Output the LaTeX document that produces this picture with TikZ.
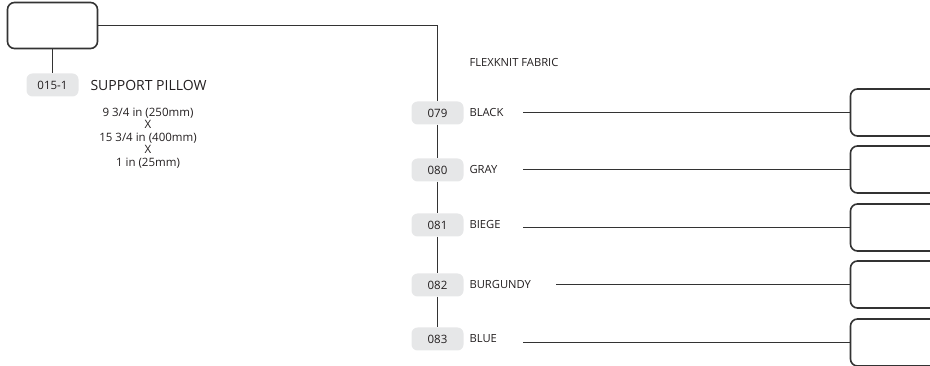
\documentclass[tikz,border=0pt]{standalone}
\usepackage{fontspec}
\setmainfont{Open Sans}
\usetikzlibrary{positioning}
\definecolor{linegray}{HTML}{333333}
\definecolor{tagfill}{HTML}{E6E7E8}
\definecolor{inkcolor}{HTML}{231F20}

\begin{document}
\begin{tikzpicture}[x=1pt, y=-1pt,
  every node/.style={font=\fontsize{11.2}{12.5}\selectfont, text=inkcolor},
  link/.style={draw=linegray, line width=1.6pt},
  tag/.style={fill=tagfill, rounded corners=6pt, minimum width=52pt, minimum height=23pt, inner sep=0pt, font=\fontsize{11.5}{12.5}\selectfont},
  blank/.style={draw=linegray, line width=1.6pt, rounded corners=7pt, minimum width=110pt, minimum height=47pt, inner sep=0pt}]
  \useasboundingbox (0,0) rectangle (930,366);
  \clip (0,0) rectangle (930,366);

  % pillow and its size
  \node[blank, minimum width=90pt, minimum height=46pt] (pillow) at (52.5,25.5) {};
  \node[tag] (t015) at (52.5,85) {015-1};
  \node[anchor=west, font=\fontsize{14}{16}\selectfont] (pname) at (87,85) {SUPPORT PILLOW};
  \node[align=center, font=\fontsize{11.5}{12.5}\selectfont] (psize) at (148,138)
    {9 3/4 in (250mm)\\X\\15 3/4 in (400mm)\\X\\1 in (25mm)};
  \draw[link] (pillow.south) -- (t015.north);

  % fabric colours
  \node[anchor=west] (fabric) at (466,63) {FLEXKNIT FABRIC};
  \node[tag] (t079) at (437.5,113) {079};
  \node[tag] (t080) at (437.5,170) {080};
  \node[tag] (t081) at (437.5,225) {081};
  \node[tag] (t082) at (437.5,285) {082};
  \node[tag] (t083) at (437.5,339) {083};
  \node[anchor=west] (black) at (466,113) {BLACK};
  \node[anchor=west] (gray) at (466,170) {GRAY};
  \node[anchor=west] (biege) at (466,225) {BIEGE};
  \node[anchor=west] (burgundy) at (466,285) {BURGUNDY};
  \node[anchor=west] (blue) at (466,339) {BLUE};
  \draw[link] (pillow.east) -| (t079.north);
  \draw[link] (t079.south) -- (t080.north);
  \draw[link] (t080.south) -- (t081.north);
  \draw[link] (t081.south) -- (t082.north);
  \draw[link] (t082.south) -- (t083.north);

  % swatch boxes on the right
  \node[blank] (sw079) at (905.5,112.5) {};
  \node[blank] (sw080) at (905.5,169.5) {};
  \node[blank] (sw081) at (905.5,227.5) {};
  \node[blank] (sw082) at (905.5,284.5) {};
  \node[blank] (sw083) at (905.5,342.5) {};
  \coordinate (s079) at (523,112.5);
  \coordinate (s080) at (523,169.5);
  \coordinate (s081) at (523,227.5);
  \coordinate (s082) at (556,284.5);
  \coordinate (s083) at (523,342.5);
  \draw[link] (s079) -- (sw079.west);
  \draw[link] (s080) -- (sw080.west);
  \draw[link] (s081) -- (sw081.west);
  \draw[link] (s082) -- (sw082.west);
  \draw[link] (s083) -- (sw083.west);
\end{tikzpicture}
\end{document}
